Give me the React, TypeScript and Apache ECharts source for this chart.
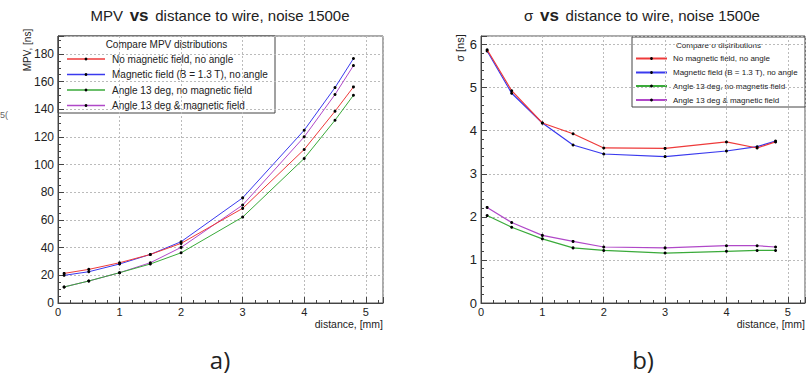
import React, { useEffect, useRef } from "react";
import * as echarts from "echarts";

// ---- data ----
const distances = [0.1, 0.5, 1, 1.5, 2, 3, 4, 4.5, 4.8];

const mpvNames = [
  "No magnetic field, no angle",
  "Magnetic field (B = 1.3 T), no angle",
  "Angle 13 deg, no magnetic field",
  "Angle 13 deg & magnetic field",
];
const mpvNoFieldNoAngle = [21.4, 24.3, 29.1, 35.1, 43.1, 68.4, 111, 138.6, 156.2];
const mpvFieldNoAngle = [20, 22.6, 28.2, 35.1, 44.3, 76, 124.9, 155.7, 176.7];
const mpvAngleNoField = [11.6, 15.9, 21.9, 28.2, 36.3, 62.1, 104.5, 132.1, 150.2];
const mpvAngleField = [11.6, 15.9, 21.9, 29.1, 40.2, 70.8, 120.1, 150.7, 171.6];

const sigmaNames = [
  "No magnetic field, no angle",
  "Magnetic field (B = 1.3 T), no angle",
  "Angle 13 deg, no magnetis field",
  "Angle 13 deg & magnetic field",
];
const sigmaNoFieldNoAngle = [5.88, 4.93, 4.18, 3.93, 3.6, 3.59, 3.74, 3.6, 3.74];
const sigmaFieldNoAngle = [5.85, 4.87, 4.18, 3.67, 3.46, 3.4, 3.53, 3.63, 3.76];
const sigmaAngleNoField = [2.03, 1.76, 1.49, 1.28, 1.22, 1.16, 1.2, 1.22, 1.22];
const sigmaAngleField = [2.22, 1.87, 1.57, 1.43, 1.3, 1.28, 1.33, 1.33, 1.3];

const xTicks = [0, 1, 2, 3, 4, 5];

const colors = ["#ee3a3a", "#3a3aee", "#3aaa3a", "#b048c8"];
const FONT = "'Liberation Sans', Arial, sans-serif";

function buildLegend(
  x: number,
  y: number,
  w: number,
  h: number,
  title: string,
  names: string[],
  fs: number,
  titleY: number,
  rowY: number[],
  lineX0: number,
  lineX1: number,
  textX: number,
  lw: number
) {
  const children: any[] = [
    {
      type: "rect",
      shape: { x, y, width: w, height: h },
      style: { fill: "#fff", stroke: "#444", lineWidth: 1 },
    },
    {
      type: "text",
      x: x + w / 2,
      y: titleY,
      style: {
        text: title,
        fontSize: fs,
        fontFamily: FONT,
        fill: "#222",
        textAlign: "center",
        textVerticalAlign: "middle",
      },
    },
  ];
  names.forEach((n, i) => {
    children.push({
      type: "line",
      shape: { x1: lineX0, y1: rowY[i], x2: lineX1, y2: rowY[i] },
      style: { stroke: colors[i], lineWidth: lw },
    });
    children.push({
      type: "circle",
      shape: { cx: (lineX0 + lineX1) / 2, cy: rowY[i], r: 1.4 },
      style: { fill: "#000" },
    });
    children.push({
      type: "text",
      x: textX,
      y: rowY[i],
      style: {
        text: n,
        fontSize: fs,
        fontFamily: FONT,
        fill: "#222",
        textAlign: "left",
        textVerticalAlign: "middle",
      },
    });
  });
  return { type: "group", z: 100, children };
}

function intLabel(step: number) {
  return (v: number) => {
    const r = Math.round(v / step) * step;
    return Math.abs(v - r) < 1e-6 ? String(r) : "";
  };
}

export default function App() {
  const ref = useRef<HTMLDivElement>(null);

  useEffect(() => {
    if (!ref.current) return;
    const chart = echarts.init(ref.current, undefined, { renderer: "svg" });

    const axisCommonX = (gridIndex: number) => ({
      type: "value",
      gridIndex,
      min: xTicks[0],
      max: 5.28,
      interval: 1,
      axisLine: { show: true, onZero: false, lineStyle: { color: "#444", width: 1 } },
      axisTick: { show: true, inside: true, length: 6, lineStyle: { color: "#444" } },
      minorTick: { show: true, splitNumber: 5, length: 3, lineStyle: { color: "#444" } },
      axisLabel: {
        formatter: intLabel(1),
        fontSize: 11,
        fontFamily: FONT,
        color: "#222",
        margin: 3,
      },
      splitLine: { show: true, lineStyle: { color: "#bbb", type: [2, 2], width: 1 } },
    });

    const series: any[] = [];
    const mpvSets = [mpvNoFieldNoAngle, mpvFieldNoAngle, mpvAngleNoField, mpvAngleField];
    const sigSets = [sigmaNoFieldNoAngle, sigmaFieldNoAngle, sigmaAngleNoField, sigmaAngleField];
    mpvSets.forEach((arr, i) => {
      series.push({
        type: "line",
        name: mpvNames[i],
        xAxisIndex: 0,
        yAxisIndex: 0,
        data: distances.map((d, k) => [d, arr[k]]),
        symbol: "circle",
        symbolSize: 3,
        itemStyle: { color: "#000" },
        lineStyle: { color: colors[i], width: 1 },
        z: 10 - i,
      });
    });
    sigSets.forEach((arr, i) => {
      series.push({
        type: "line",
        name: sigmaNames[i],
        xAxisIndex: 1,
        yAxisIndex: 1,
        data: distances.map((d, k) => [d, arr[k]]),
        symbol: "circle",
        symbolSize: 3,
        itemStyle: { color: "#000" },
        lineStyle: { color: colors[i], width: 1.2 },
        z: 10 - i,
      });
    });

    const titleStyle = (lead: string, cx: number) => ({
      type: "text",
      x: cx,
      y: 15,
      style: {
        text: `{a|${lead}}  {b|vs}  {a|distance to wire, noise 1500e}`,
        textAlign: "center",
        textVerticalAlign: "middle",
        rich: {
          a: { fontSize: 15, fontFamily: FONT, fill: "#222" },
          b: { fontSize: 17, fontFamily: FONT, fill: "#222", fontWeight: "bold" },
        },
      },
    });

    chart.setOption({
      animation: false,
      backgroundColor: "#fff",
      grid: [
        { left: 58, top: 36, width: 325, height: 267, show: true, borderColor: "#555", borderWidth: 1 },
        { left: 481, top: 36, width: 324, height: 267, show: true, borderColor: "#555", borderWidth: 1 },
      ],
      xAxis: [axisCommonX(0), axisCommonX(1)],
      yAxis: [
        {
          type: "value",
          gridIndex: 0,
          min: 0,
          max: 193,
          interval: 20,
          axisLine: { show: true, lineStyle: { color: "#444" } },
          axisTick: { show: true, inside: true, length: 6, lineStyle: { color: "#444" } },
          minorTick: { show: true, splitNumber: 4, length: 3, lineStyle: { color: "#444" } },
          axisLabel: { formatter: intLabel(20), fontSize: 12, fontFamily: FONT, color: "#222", margin: 4 },
          splitLine: { show: true, lineStyle: { color: "#bbb", type: [2, 2], width: 1 } },
        },
        {
          type: "value",
          gridIndex: 1,
          min: 0,
          max: 6.2,
          interval: 1,
          axisLine: { show: true, lineStyle: { color: "#444" } },
          axisTick: { show: true, inside: true, length: 6, lineStyle: { color: "#444" } },
          minorTick: { show: true, splitNumber: 5, length: 3, lineStyle: { color: "#444" } },
          axisLabel: { formatter: intLabel(1), fontSize: 13, fontFamily: FONT, color: "#222", margin: 4 },
          splitLine: { show: true, lineStyle: { color: "#bbb", type: [2, 2], width: 1 } },
        },
      ],
      series,
      graphic: [
        titleStyle("MPV", 220),
        titleStyle("\u03c3", 642),
        {
          type: "text",
          x: 27,
          y: 50,
          rotation: Math.PI / 2,
          style: {
            text: "MPV, [ns]",
            fontSize: 10,
            fontFamily: FONT,
            fill: "#222",
            textAlign: "center",
            textVerticalAlign: "middle",
          },
        },
        {
          type: "text",
          x: 460,
          y: 48,
          rotation: Math.PI / 2,
          style: {
            text: "\u03c3 [ns]",
            fontSize: 11,
            fontFamily: FONT,
            fill: "#222",
            textAlign: "center",
            textVerticalAlign: "middle",
          },
        },
        {
          type: "text",
          x: 383,
          y: 324,
          style: {
            text: "distance, [mm]",
            fontSize: 10.5,
            fontFamily: FONT,
            fill: "#222",
            textAlign: "right",
            textVerticalAlign: "middle",
          },
        },
        {
          type: "text",
          x: 805,
          y: 324,
          style: {
            text: "distance, [mm]",
            fontSize: 10.5,
            fontFamily: FONT,
            fill: "#222",
            textAlign: "right",
            textVerticalAlign: "middle",
          },
        },
        {
          type: "text",
          x: 0,
          y: 115,
          style: { text: "5(", fontSize: 9, fontFamily: FONT, fill: "#666", textVerticalAlign: "middle" },
        },
        {
          type: "text",
          x: 220,
          y: 359,
          style: {
            text: "a)",
            fontSize: 24,
            fontFamily: "'Open Sans', sans-serif",
            fill: "#222",
            textAlign: "center",
            textVerticalAlign: "middle",
          },
        },
        {
          type: "text",
          x: 643,
          y: 359,
          style: {
            text: "b)",
            fontSize: 24,
            fontFamily: "'Open Sans', sans-serif",
            fill: "#222",
            textAlign: "center",
            textVerticalAlign: "middle",
          },
        },
        buildLegend(58, 36, 217, 77, "Compare MPV distributions", mpvNames, 10, 44, [59, 74.5, 90, 105.5], 67, 105, 112, 1.5),
        buildLegend(632, 37, 173, 70, "Compare \u03c3 distributions", sigmaNames, 8, 45, [58.5, 72.5, 86, 100], 636, 667, 673, 2),
      ],
    });

    return () => chart.dispose();
  }, []);

  return (
    <div
      ref={ref}
      style={{ position: "absolute", left: 0, top: 0, width: 810, height: 375 }}
    />
  );
}
